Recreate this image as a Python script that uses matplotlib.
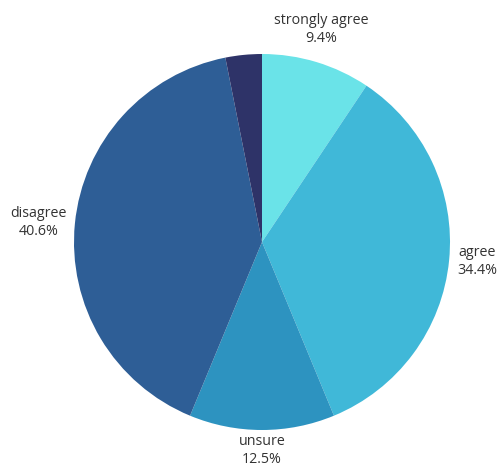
import numpy as np
import matplotlib
matplotlib.use("Agg")
import matplotlib.pyplot as plt

categories = ["strongly agree", "agree", "unsure", "disagree", "strongly disagree"]
counts = [3, 11, 4, 13, 1]
show_label = [True, True, True, True, False]
colors = ["#6ae3e8", "#40b8d8", "#2d93c0", "#2e5e96", "#2e3368"]

plt.rcParams['font.family'] = ['Open Sans', 'DejaVu Sans']

W, H = 500, 468
fig = plt.figure(figsize=(W/100, H/100), dpi=100)
ax = fig.add_axes([0, 0, 1, 1])
R = 188.0
cx, cy = 262.0, 242.0

wedges, _ = ax.pie(counts, colors=colors, startangle=90, counterclock=False,
                   radius=1.0, center=(0, 0), wedgeprops=dict(linewidth=0),
                   frame=True)
ax.set_xlim(-cx/R, (W-cx)/R)
ax.set_ylim(-(H-cy)/R, cy/R)
ax.set_aspect('auto')
ax.axis('off')

total = sum(counts)
for w, cat, c, show in zip(wedges, categories, counts, show_label):
    if not show:
        continue
    ang = np.deg2rad((w.theta1 + w.theta2) / 2)
    ca, sa = np.cos(ang), np.sin(ang)
    if abs(ca) < 0.5:
        ha = 'center'
    else:
        ha = 'left' if ca > 0 else 'right'
    if sa > 0.7:
        va = 'bottom'; r = 1.09
    elif sa < -0.7:
        va = 'top'; r = 1.02
    else:
        va = 'center'; r = 1.045
    ax.text(r*ca, r*sa, f"{cat}\n{100*c/total:.1f}%", ha=ha, va=va,
            multialignment='center', fontsize=10.3, color='#333333', linespacing=1.3)

fig.savefig("out.png", dpi=100, facecolor='white')
